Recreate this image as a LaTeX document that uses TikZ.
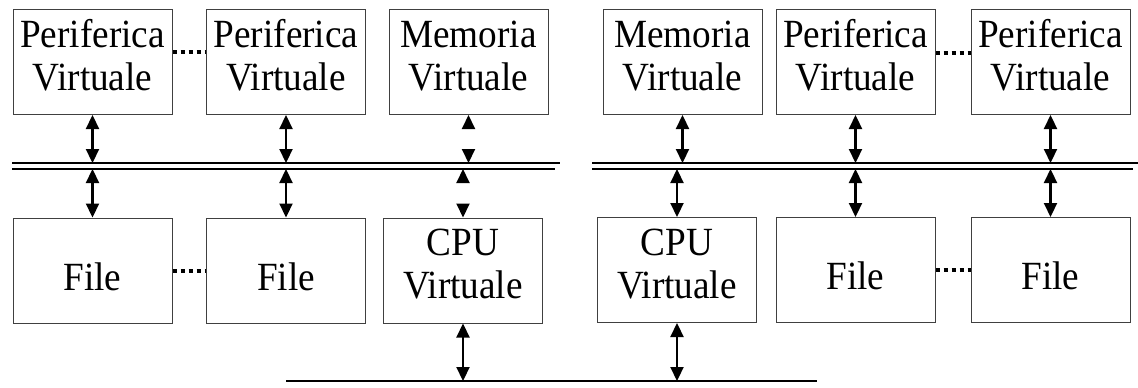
\documentclass[tikz,border=0pt]{standalone}
\usepackage{fontspec}
\setmainfont{Liberation Serif}
\newfontfamily\boxfont[FakeStretch=0.93]{Liberation Serif}
\usetikzlibrary{arrows.meta}
\begin{document}
\begin{tikzpicture}[x=1pt,y=-1pt]
	\tikzstyle{Box} = [rectangle, draw=black!75, line width=1pt, minimum width=159, minimum height=105, inner sep=0pt, align=center, font=\boxfont\fontsize{40}{43}\selectfont]
	\tikzstyle{Two} = [text height=56pt, text depth=0pt]
	\tikzstyle{One} = [text height=39pt, text depth=0pt]
	\tikzstyle{Link} = [line width=2.2pt, {Triangle[width=13pt,length=14pt]}-{Triangle[width=13pt,length=14pt]}]
	\tikzstyle{Heads} = [line width=2pt, draw=white, {Triangle[color=black,fill=black,width=13pt,length=14pt]}-{Triangle[color=black,fill=black,width=13pt,length=14pt]}]
	\tikzstyle{Bus} = [line width=1.5pt]
	\tikzstyle{Dots} = [line width=4pt, dash pattern=on 4pt off 4pt]
	\useasboundingbox (0,0) rectangle (1138,388);
	\node (1) at (92.5,62) [Box, Two] {Periferica\\Virtuale};
	\node (2) at (286,62) [Box, Two] {Periferica\\Virtuale};
	\node (3) at (468.5,62) [Box, Two] {Memoria\\Virtuale};
	\node (4) at (682.5,62) [Box, Two] {Memoria\\Virtuale};
	\node (5) at (855.5,62) [Box, Two] {Periferica\\Virtuale};
	\node (6) at (1050.5,62) [Box, Two] {Periferica\\Virtuale};
	\node (7) at (92.5,270.5) [Box, One] {File};
	\node (8) at (286,270.5) [Box, One] {File};
	\node (9) at (463,270.5) [Box, Two] {CPU\\Virtuale};
	\node (10) at (677,270) [Box, Two] {CPU\\Virtuale};
	\node (11) at (855.5,270) [Box, One] {File};
	\node (12) at (1050.5,270) [Box, One] {File};
	% bus lines
	\coordinate (a1) at (12,163); \coordinate (a2) at (560,163);
	\coordinate (b1) at (12,169); \coordinate (b2) at (555,169);
	\coordinate (c1) at (592,163); \coordinate (c2) at (1138,163);
	\coordinate (d1) at (592,169); \coordinate (d2) at (1133,169);
	\coordinate (e1) at (286,381); \coordinate (e2) at (817,381);
	\draw [Bus] (a1) -- (a2);
	\draw [Bus] (b1) -- (b2);
	\draw [Bus] (c1) -- (c2);
	\draw [Bus] (d1) -- (d2);
	\draw [Bus] (e1) -- (e2);
	% links
	\draw [Link] (1) -- (1 |- a1);
	\draw [Link] (2) -- (2 |- a1);
	\draw [Heads] (3) -- (3 |- a1);
	\draw [Link] (4) -- (4 |- c1);
	\draw [Link] (5) -- (5 |- c1);
	\draw [Link] (6) -- (6 |- c1);
	\draw [Link] (7 |- b1) -- (7);
	\draw [Link] (8 |- b1) -- (8);
	\draw [Heads] (9 |- b1) -- (9);
	\draw [Link] (10 |- d1) -- (10);
	\draw [Link] (11 |- d1) -- (11);
	\draw [Link] (12 |- d1) -- (12);
	\draw [Link] (9) -- (9 |- e1);
	\draw [Link] (10) -- (10 |- e1);
	% dots
	\draw [Dots] ([yshift=10pt]1.east) -- ([yshift=10pt]2.west);
	\draw [Dots] ([yshift=9pt]5.east) -- ([yshift=9pt]6.west);
	\draw [Dots] (7.east) -- (8.west);
	\draw [Dots] (11.east) -- (12.west);
\end{tikzpicture}
\end{document}
